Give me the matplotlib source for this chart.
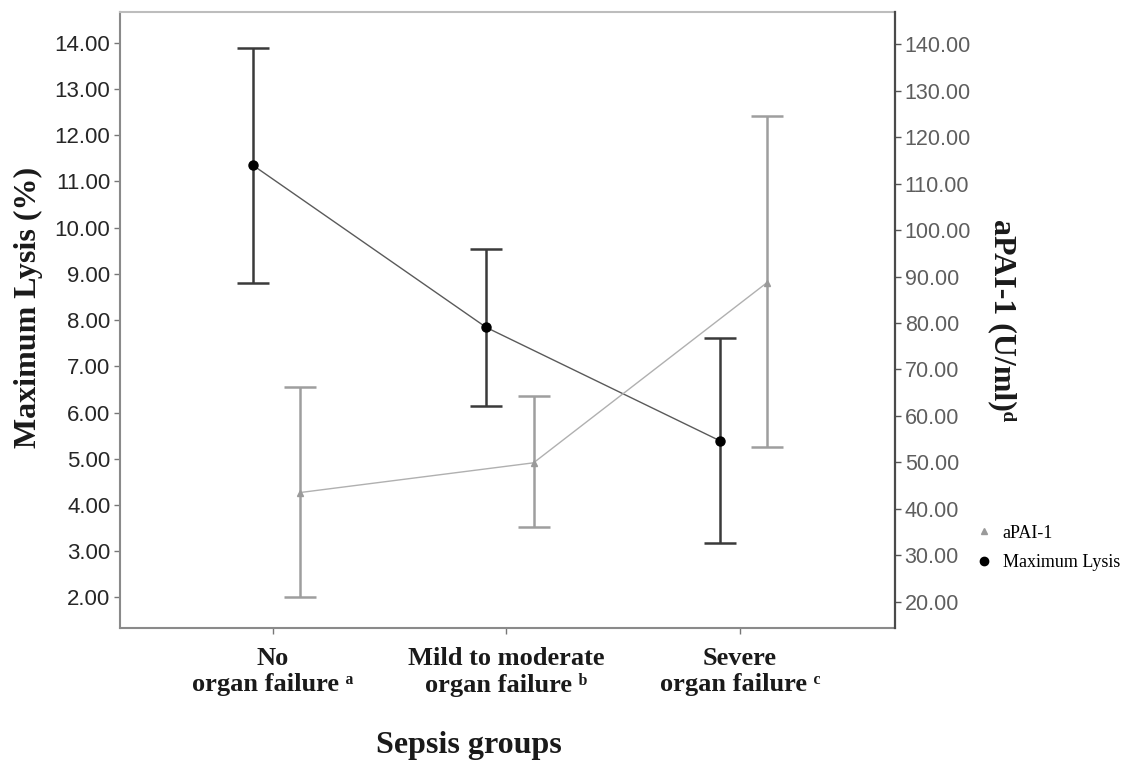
import matplotlib
matplotlib.use('Agg')
import matplotlib.pyplot as plt
from matplotlib.lines import Line2D
import numpy as np

SERIF = ['Liberation Serif', 'DejaVu Serif']

# groups and values
groups = ["No\norgan failure \u1d43",
          "Mild to moderate\norgan failure \u1d47",
          "Severe\norgan failure \u1d9c"]
lysis_mean = [11.35, 7.84, 5.39]
lysis_low = [8.81, 6.15, 3.18]
lysis_high = [13.89, 9.54, 7.61]
pai_mean = [43.5, 49.9, 88.7]
pai_low = [21.1, 36.0, 53.4]
pai_high = [66.3, 64.3, 124.5]

left_ticks = np.arange(2, 15, 1)
right_ticks = np.arange(20, 141, 10)

x = np.arange(len(groups))

fig = plt.figure(figsize=(11.35, 7.6), dpi=100)
ax = fig.add_axes([120 / 1135, 132 / 760, 775 / 1135, 616 / 760])
ax2 = ax.twinx()

# aPAI-1, grey, right axis
pm = np.array(pai_mean)
ax2.errorbar(x + 0.116, pm, yerr=[pm - np.array(pai_low), np.array(pai_high) - pm],
             fmt='-^', color='#b0b0b0', lw=1.0, ms=5, mfc='#9a9a9a', mec='#9a9a9a',
             ecolor='#9e9e9e', elinewidth=1.8, capsize=11.5, capthick=1.8, zorder=3)

# Maximum Lysis, black, left axis
lm = np.array(lysis_mean)
ax.errorbar(x - 0.086, lm, yerr=[lm - np.array(lysis_low), np.array(lysis_high) - lm],
            fmt='-o', color='#5a5a5a', lw=1.0, ms=6.5, mfc='black', mec='black',
            ecolor='#3a3a3a', elinewidth=1.8, capsize=11.5, capthick=1.8, zorder=3)

ax.set_xlim(-0.655, 2.664)
ax.set_ylim(1.34, 14.664)
ax2.set_ylim(14.34, 146.95)

ax.set_yticks(left_ticks)
ax.set_yticklabels(['%.2f' % v for v in left_ticks], fontsize=16,
                   family='Liberation Sans', color='#262626')
ax2.set_yticks(right_ticks)
ax2.set_yticklabels(['%.2f' % v for v in right_ticks], fontsize=15.5,
                    family='Liberation Sans', color='#5e5e5e')

ax.set_xticks(x)
ax.set_xticklabels(groups, fontsize=19, family=SERIF, weight='bold',
                   linespacing=1.15, color='#1a1a1a')

ax.tick_params(axis='y', length=4, width=1, color='#777777', pad=3)
ax2.tick_params(axis='y', length=4, width=1, color='#555555', pad=3)
ax.tick_params(axis='x', length=4, width=1, color='#777777', pad=10)

for side in ['left', 'bottom']:
    ax.spines[side].set_color('#8a8a8a')
    ax.spines[side].set_linewidth(1.5)
ax.spines['top'].set_color('#bdbdbd')
ax.spines['top'].set_linewidth(1.5)
ax.spines['right'].set_visible(False)
for side in ['left', 'bottom', 'top']:
    ax2.spines[side].set_visible(False)
ax2.spines['right'].set_color('#4a4a4a')
ax2.spines['right'].set_linewidth(1.6)

ax.set_ylabel('Maximum Lysis (%)', fontsize=23, family=SERIF,
              weight='bold', color='#1a1a1a', va='center')
ax.yaxis.set_label_coords(-0.118, 0.52)
ax2.set_ylabel('aPAI-1 (U/ml)\u1d48', fontsize=23, family=SERIF,
               weight='bold', color='#1a1a1a', rotation=270, va='center')
ax2.yaxis.set_label_coords(1.139, 0.5)
ax.set_xlabel('Sepsis groups', fontsize=23, family=SERIF,
              weight='bold', color='#1a1a1a', va='center')
ax.xaxis.set_label_coords(0.45, -0.19)

handles = [Line2D([], [], ls='none', marker='^', ms=5, color='#9a9a9a'),
           Line2D([], [], ls='none', marker='o', ms=6, color='black')]
fig.legend(handles, ['aPAI-1', 'Maximum Lysis'], loc='center left',
           bbox_to_anchor=(961 / 1135, 1 - 548 / 760), frameon=False,
           prop={'family': SERIF, 'size': 13},
           handlelength=0.8, handletextpad=0.6, labelspacing=0.7)

fig.savefig('out.png', dpi=100)
